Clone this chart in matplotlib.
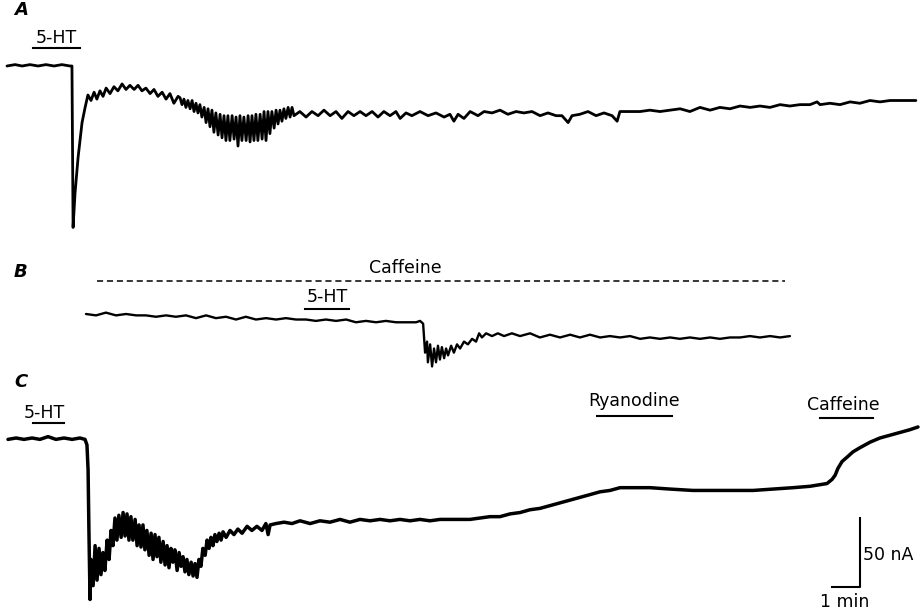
import matplotlib
matplotlib.use("Agg")
import matplotlib.pyplot as plt

# ---- trace A: time (min from start of trace), current (nA, rel. to holding)
a_time = [
    0.00, 0.29, 0.54, 0.82, 1.11, 1.39, 1.68, 1.96, 2.25, 2.32,
    2.36, 2.43, 2.54, 2.68, 2.79, 2.89, 3.00, 3.11, 3.21, 3.32,
    3.43, 3.54, 3.68, 3.82, 3.96, 4.11, 4.25, 4.39, 4.54, 4.68,
    4.82, 4.96, 5.11, 5.25, 5.39, 5.54, 5.68, 5.82, 5.96, 6.11,
    6.18, 6.25, 6.32, 6.39, 6.46, 6.54, 6.61, 6.68, 6.75, 6.82,
    6.89, 6.96, 7.04, 7.11, 7.18, 7.25, 7.32, 7.39, 7.46, 7.54,
    7.61, 7.68, 7.75, 7.82, 7.89, 7.96, 8.04, 8.11, 8.18, 8.25,
    8.32, 8.39, 8.46, 8.54, 8.61, 8.68, 8.75, 8.82, 8.89, 8.96,
    9.04, 9.11, 9.18, 9.25, 9.32, 9.39, 9.46, 9.54, 9.61, 9.68,
    9.75, 9.82, 9.89, 9.96, 10.04, 10.11, 10.18, 10.25,
    10.46, 10.68, 10.89, 11.11, 11.32, 11.54, 11.75, 11.96, 12.18, 12.39,
    12.61, 12.82, 13.04, 13.25, 13.46, 13.68, 13.89, 14.04, 14.25, 14.46,
    14.75, 15.04, 15.32, 15.61, 15.82, 15.96, 16.11, 16.32, 16.54, 16.82,
    17.04, 17.32, 17.61, 17.89, 18.18, 18.46, 18.75, 19.04, 19.32, 19.61,
    19.82, 20.04, 20.18, 20.46, 20.75, 21.04, 21.32, 21.61, 21.79, 21.89,
    22.25, 22.61, 22.96, 23.32, 23.68, 24.04, 24.39, 24.75, 25.11, 25.46,
    25.82, 26.18, 26.54, 26.89, 27.25, 27.61, 27.96, 28.32, 28.68, 28.93,
    29.04, 29.39, 29.75, 30.11, 30.46, 30.82, 31.18, 31.54, 31.89, 32.25,
    32.46,
]
a_current = [
    0, 1, 0, 1, 0, 1, 0, 1, 0, 0,
    -117, -92, -66, -41, -30, -21, -25, -19, -24, -18,
    -22, -16, -20, -15, -18, -13, -17, -14, -17, -14,
    -18, -16, -20, -17, -22, -19, -24, -20, -27, -22,
    -23, -28, -24, -30, -25, -31, -25, -33, -27, -34,
    -28, -37, -30, -41, -31, -44, -32, -48, -34, -50,
    -35, -52, -36, -54, -36, -54, -36, -53, -37, -58,
    -36, -54, -37, -54, -36, -55, -36, -54, -35, -54,
    -35, -53, -33, -54, -33, -49, -33, -45, -32, -42,
    -32, -40, -31, -38, -30, -37, -30, -36,
    -33, -37, -33, -36, -32, -36, -33, -38, -33, -36,
    -33, -36, -33, -37, -33, -36, -33, -38, -34, -36,
    -33, -36, -34, -37, -35, -40, -35, -38, -33, -36,
    -33, -34, -32, -35, -33, -34, -33, -36, -34, -36,
    -36, -41, -36, -35, -33, -36, -34, -36, -40, -33,
    -33, -33, -32, -33, -32, -31, -33, -30, -32, -30,
    -31, -29, -30, -29, -30, -28, -29, -28, -28, -26,
    -28, -27, -28, -26, -27, -25, -26, -25, -25, -25,
    -25,
]

# ---- trace B (recorded in caffeine)
b_time = [
    0.00, 0.36, 0.71, 1.07, 1.43, 1.79, 2.14, 2.50, 2.86, 3.21,
    3.57, 3.93, 4.29, 4.64, 5.00, 5.36, 5.71, 6.07, 6.43, 6.79,
    7.14, 7.50, 7.86, 8.21, 8.57, 8.93, 9.29, 9.64, 10.00, 10.36,
    10.71, 11.07, 11.43, 11.79, 11.93, 12.04,
    12.11, 12.18, 12.21, 12.29, 12.36, 12.43, 12.50, 12.57, 12.64, 12.71,
    12.79, 12.86, 12.93, 13.04, 13.14, 13.25, 13.36, 13.50, 13.64, 13.79,
    13.93, 14.04, 14.14, 14.29, 14.50, 14.71, 14.93, 15.21, 15.50, 15.86,
    16.21, 16.57, 16.93, 17.29, 17.64, 18.00, 18.36, 18.71, 19.07, 19.43,
    19.79, 20.14, 20.50, 20.86, 21.21, 21.57, 21.93, 22.29, 22.64, 23.00,
    23.36, 23.71, 24.07, 24.43, 24.79, 25.14,
]
b_current = [
    0, -1, 1, -1, 0, -1, -1, -2, -1, -2,
    -1, -3, -1, -3, -2, -4, -2, -4, -3, -4,
    -3, -4, -4, -5, -4, -5, -4, -6, -5, -6,
    -5, -6, -6, -6, -5, -7,
    -28, -20, -35, -22, -38, -25, -35, -23, -33, -24,
    -32, -25, -30, -23, -28, -22, -25, -20, -22, -18,
    -20, -14, -17, -14, -16, -14, -16, -14, -16, -14,
    -17, -15, -17, -15, -17, -15, -17, -16, -17, -16,
    -18, -17, -18, -17, -18, -17, -18, -17, -18, -17,
    -17, -16, -17, -16, -17, -16,
]

# ---- trace C
c_time = [
    0.00, 0.29, 0.57, 0.86, 1.14, 1.43, 1.71, 2.00, 2.29, 2.57,
    2.75, 2.82, 2.86, 2.89, 2.93, 2.96, 3.04, 3.11, 3.18, 3.25,
    3.32, 3.39, 3.46, 3.54, 3.61, 3.68, 3.75, 3.82, 3.89, 3.96,
    4.04, 4.11, 4.18, 4.25, 4.32, 4.39, 4.46, 4.54, 4.61, 4.68,
    4.75, 4.82, 4.89, 4.96, 5.04, 5.11, 5.18, 5.25, 5.32, 5.39,
    5.46, 5.54, 5.61, 5.68, 5.75, 5.82, 5.89, 5.96, 6.04, 6.11,
    6.18, 6.25, 6.32, 6.39, 6.46, 6.54, 6.61, 6.68, 6.75, 6.82,
    6.89, 6.96, 7.04, 7.11, 7.18, 7.25, 7.32, 7.39, 7.46, 7.54,
    7.61, 7.68, 7.79, 7.93, 8.07, 8.21, 8.36, 8.54, 8.71, 8.89,
    9.07, 9.21, 9.29, 9.36, 9.57, 9.86, 10.14, 10.43, 10.79, 11.14,
    11.50, 11.86, 12.21, 12.57, 12.93, 13.29, 13.64, 14.00, 14.36, 14.71,
    15.07, 15.43, 15.79, 16.14, 16.50, 16.86, 17.21, 17.57, 17.93, 18.29,
    18.64, 19.00, 19.36, 19.71, 20.07, 20.43, 20.79, 21.14, 21.50, 21.86,
    22.32, 22.93, 23.64, 24.46, 25.18, 25.89, 26.61, 27.32, 28.04, 28.64,
    29.25, 29.43, 29.54, 29.64, 29.79, 29.96, 30.18, 30.43, 30.79, 31.14,
    31.50, 31.86, 32.21, 32.50,
]
c_current = [
    -1, 0, -1, 0, -1, 1, -1, 0, -1, 0,
    -1, -5, -23, -67, -117, -88, -107, -78, -103, -80,
    -99, -83, -96, -74, -88, -67, -78, -58, -74, -56,
    -72, -54, -71, -55, -74, -57, -74, -59, -78, -63,
    -79, -63, -81, -67, -85, -69, -88, -70, -86, -72,
    -90, -75, -92, -78, -94, -80, -90, -81, -96, -83,
    -93, -86, -97, -88, -99, -90, -100, -91, -101, -88,
    -93, -80, -85, -74, -80, -72, -78, -70, -75, -69,
    -74, -68, -72, -67, -70, -66, -69, -64, -67, -64,
    -67, -62, -70, -63, -62, -61, -62, -60, -62, -60,
    -61, -59, -61, -59, -60, -59, -60, -59, -60, -59,
    -60, -59, -59, -59, -59, -58, -57, -57, -55, -54,
    -52, -51, -49, -47, -45, -43, -41, -39, -38, -36,
    -36, -36, -37, -38, -38, -38, -38, -37, -36, -35,
    -33, -30, -27, -22, -17, -14, -10, -7, -3, 0,
    2, 4, 6, 8,
]

# drug applications: (label, start min, end min) relative to each trace start
a_drugs = [("5-HT", 0.93, 2.61)]
b_drugs = [("5-HT", 7.82, 9.39)]
b_background = ("Caffeine", 0.39, 24.96)
c_drugs = [("5-HT", 0.89, 2.00), ("Ryanodine", 21.04, 23.71), ("Caffeine", 29.00, 30.89)]

# ---- layout (figure is 923 x 613 px; 28 px per min, 1.38 px per nA)
W, H = 923, 613
PX_MIN = 28.0
PX_NA = 1.38

# where each trace starts (x, in min) and its holding level (y, in nA)
panels = {
    "A": dict(x0=7 / PX_MIN, y0=-66 / PX_NA, label_y=10),
    "B": dict(x0=86 / PX_MIN, y0=-314 / PX_NA, label_y=272),
    "C": dict(x0=8 / PX_MIN, y0=-438 / PX_NA, label_y=382),
}

fig = plt.figure(figsize=(W / 100, H / 100), dpi=100)
ax = fig.add_axes([0, 0, 1, 1])
ax.set_xlim(0, W / PX_MIN)
ax.set_ylim(-H / PX_NA, 0)
ax.axis("off")

ink = "#000000"
font = dict(family="DejaVu Sans", fontsize=12.5, color=ink)


def draw_trace(key, t, cur, lw=1.7):
    p = panels[key]
    ax.plot([p["x0"] + v for v in t], [p["y0"] + v for v in cur],
            color=ink, lw=lw, solid_joinstyle="round", solid_capstyle="round")
    fig.text(14 / W, 1 - p["label_y"] / H, key, fontsize=13, fontweight="bold",
             fontstyle="italic", ha="left", va="center", color=ink)


def draw_bar(key, label, t0, t1, bar_up, text_up, text_x=None, ls="-", lw=1.5):
    p = panels[key]
    y = p["y0"] + bar_up
    ax.plot([p["x0"] + t0, p["x0"] + t1], [y, y], color=ink, lw=lw, ls=ls,
            dashes=(4, 2.5) if ls == "--" else (None, None))
    tx = p["x0"] + (t0 + t1) / 2 if text_x is None else p["x0"] + text_x
    ax.text(tx, p["y0"] + text_up, label, ha="center", va="center", **font)


draw_trace("A", a_time, a_current, lw=2.0)
draw_trace("B", b_time, b_current, lw=1.7)
draw_trace("C", c_time, c_current, lw=2.5)

# application markers (height above holding level, nA)
draw_bar("A", *a_drugs[0], bar_up=13, text_up=20)
draw_bar("B", *b_drugs[0], bar_up=3.6, text_up=12)
draw_bar("B", *b_background, bar_up=24, text_up=33, text_x=11.4, ls="--", lw=1.1)
draw_bar("C", *c_drugs[0], bar_up=11, text_up=18, text_x=1.3)
draw_bar("C", *c_drugs[1], bar_up=16, text_up=26.5)
draw_bar("C", *c_drugs[2], bar_up=14.5, text_up=24, text_x=29.85)

# scale bar: 1 min x 50 nA
sx, sy = 860 / PX_MIN, -587 / PX_NA
ax.plot([sx - 1, sx, sx], [sy, sy, sy + 50], color=ink, lw=1.5)
ax.text(sx + 0.1, sy + 23, "50 nA", ha="left", va="center", **font)
ax.text(sx - 0.55, sy - 11, "1 min", ha="center", va="center", **font)

fig.savefig("out.png", dpi=100)
